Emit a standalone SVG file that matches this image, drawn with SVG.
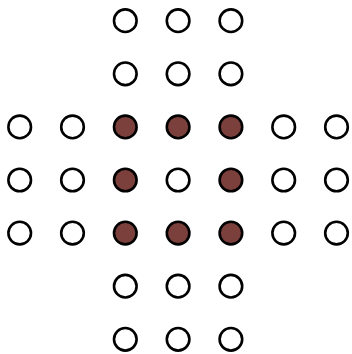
<svg xmlns="http://www.w3.org/2000/svg" width="352" height="354" viewBox="0 0 352 354">
<style>
.h{fill:#ffffff;stroke:#000000;stroke-width:2.6}
.p{fill:#7b3f3c;stroke:#000000;stroke-width:2.6}
</style>
<rect width="352" height="354" fill="#ffffff"/>
<g id="board">
<g id="r0"><circle class="h" cx="125.3" cy="20.7" r="11.3"/><circle class="h" cx="178.1" cy="20.7" r="11.3"/><circle class="h" cx="230.9" cy="20.7" r="11.3"/></g>
<g id="r1"><circle class="h" cx="125.3" cy="73.8" r="11.3"/><circle class="h" cx="178.1" cy="73.8" r="11.3"/><circle class="h" cx="230.9" cy="73.8" r="11.3"/></g>
<g id="r2"><circle class="h" cx="19.7" cy="126.9" r="11.3"/><circle class="h" cx="72.5" cy="126.9" r="11.3"/><circle class="p" cx="125.3" cy="126.9" r="11.3"/><circle class="p" cx="178.1" cy="126.9" r="11.3"/><circle class="p" cx="230.9" cy="126.9" r="11.3"/><circle class="h" cx="283.7" cy="126.9" r="11.3"/><circle class="h" cx="336.5" cy="126.9" r="11.3"/></g>
<g id="r3"><circle class="h" cx="19.7" cy="180" r="11.3"/><circle class="h" cx="72.5" cy="180" r="11.3"/><circle class="p" cx="125.3" cy="180" r="11.3"/><circle class="h" cx="178.1" cy="180" r="11.3"/><circle class="p" cx="230.9" cy="180" r="11.3"/><circle class="h" cx="283.7" cy="180" r="11.3"/><circle class="h" cx="336.5" cy="180" r="11.3"/></g>
<g id="r4"><circle class="h" cx="19.7" cy="233.1" r="11.3"/><circle class="h" cx="72.5" cy="233.1" r="11.3"/><circle class="p" cx="125.3" cy="233.1" r="11.3"/><circle class="p" cx="178.1" cy="233.1" r="11.3"/><circle class="p" cx="230.9" cy="233.1" r="11.3"/><circle class="h" cx="283.7" cy="233.1" r="11.3"/><circle class="h" cx="336.5" cy="233.1" r="11.3"/></g>
<g id="r5"><circle class="h" cx="125.3" cy="286.2" r="11.3"/><circle class="h" cx="178.1" cy="286.2" r="11.3"/><circle class="h" cx="230.9" cy="286.2" r="11.3"/></g>
<g id="r6"><circle class="h" cx="125.3" cy="339.3" r="11.3"/><circle class="h" cx="178.1" cy="339.3" r="11.3"/><circle class="h" cx="230.9" cy="339.3" r="11.3"/></g>
</g>
</svg>
